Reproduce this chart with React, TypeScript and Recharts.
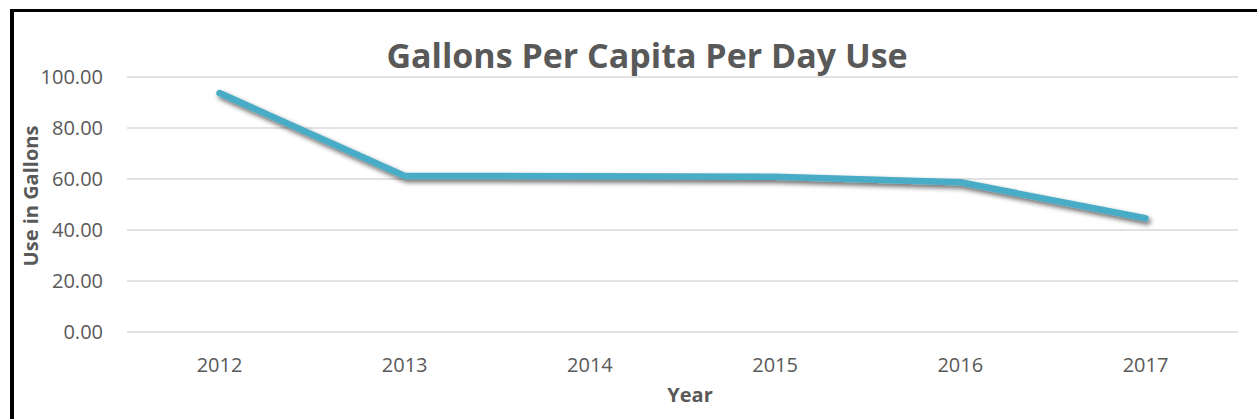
import React from 'react';
import { CartesianGrid, Line, LineChart, XAxis, YAxis } from 'recharts';

const years = ['2012', '2013', '2014', '2015', '2016', '2017'];
const gallonsPerDay = [93.7, 61.2, 61.1, 60.9, 58.7, 44.6];
const yTicks = [0, 20, 40, 60, 80, 100];

const data = years.map((year, i) => ({ year, value: gallonsPerDay[i] }));

const FONT = '"Open Sans", "Liberation Sans", sans-serif';
const GREY = '#595959';

const App: React.FC = () => {
  return (
    <div
      style={{
        position: 'absolute',
        left: 0,
        top: 0,
        width: 1257,
        height: 419,
        background: '#fff',
        overflow: 'hidden',
        fontFamily: FONT,
      }}
    >
      <svg width={0} height={0} style={{ position: 'absolute' }}>
        <defs>
          <filter id="lineShadow" x="-10%" y="-50%" width="120%" height="200%">
            <feGaussianBlur in="SourceAlpha" stdDeviation="2.5" />
            <feOffset dx="2" dy="3" result="blur" />
            <feComponentTransfer>
              <feFuncA type="linear" slope="0.6" />
            </feComponentTransfer>
            <feMerge>
              <feMergeNode />
              <feMergeNode in="SourceGraphic" />
            </feMerge>
          </filter>
        </defs>
      </svg>

      <div
        style={{
          position: 'absolute',
          left: 10,
          top: 9,
          width: 1300,
          height: 500,
          borderTop: '3px solid #000',
          borderLeft: '4px solid #000',
        }}
      />

      <div
        style={{
          position: 'absolute',
          left: 0,
          width: 1294,
          top: 33,
          textAlign: 'center',
          fontSize: 34,
          fontWeight: 700,
          color: GREY,
          lineHeight: '44px',
        }}
      >
        Gallons Per Capita Per Day Use
      </div>

      <div
        style={{
          position: 'absolute',
          left: 30,
          top: 196,
          transform: 'translate(-50%, -50%) rotate(-90deg)',
          whiteSpace: 'nowrap',
          fontSize: 20,
          fontWeight: 700,
          color: GREY,
        }}
      >
        Use in Gallons
      </div>

      <div
        style={{
          position: 'absolute',
          left: 690,
          top: 394,
          transform: 'translate(-50%, -50%)',
          fontSize: 20,
          fontWeight: 700,
          color: GREY,
        }}
      >
        Year
      </div>

      <div style={{ position: 'absolute', left: 0, top: 0 }}>
        <LineChart
          width={1257}
          height={419}
          data={data}
          margin={{ top: 77, right: 19, left: 60, bottom: 27 }}
        >
          <CartesianGrid vertical={false} stroke="#d9d9d9" strokeWidth={1.5} />
          <XAxis
            dataKey="year"
            axisLine={false}
            tickLine={false}
            height={60}
            tickMargin={20}
            padding={{ left: 92.5, right: 92.5 }}
            tick={{ fill: GREY, fontSize: 20, fontFamily: FONT }}
          />
          <YAxis
            domain={[0, 100]}
            ticks={yTicks}
            width={67}
            axisLine={false}
            tickLine={false}
            tickMargin={18}
            tickFormatter={(v: number) => v.toFixed(2)}
            tick={{ fill: GREY, fontSize: 20, fontFamily: FONT }}
          />
          <Line
            type="linear"
            dataKey="value"
            stroke="#4AACC6"
            strokeWidth={6.5}
            strokeLinecap="round"
            strokeLinejoin="round"
            dot={false}
            activeDot={false}
            filter="url(#lineShadow)"
            isAnimationActive={false}
          />
        </LineChart>
      </div>
    </div>
  );
};

export default App;
